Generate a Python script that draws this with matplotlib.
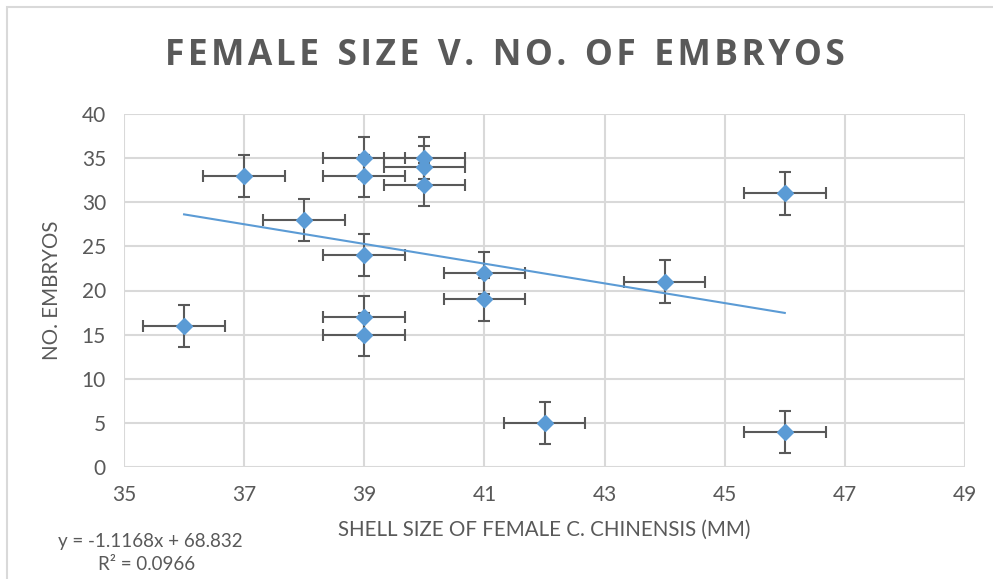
import numpy as np
import matplotlib.pyplot as plt
from matplotlib.patches import Rectangle

# shell size (mm) and number of embryos per female
shell_size = [36, 37, 38, 39, 39, 39, 39, 39, 40, 40, 40, 41, 41, 42, 44, 46, 46]
embryos = [16, 33, 28, 35, 33, 24, 17, 15, 35, 34, 32, 22, 19, 5, 21, 31, 4]
x_err = 0.68
y_err = 2.4
x_ticks = [35, 37, 39, 41, 43, 45, 47, 49]
y_ticks = [0, 5, 10, 15, 20, 25, 30, 35, 40]

blue = '#5B9BD5'
grey = '#595959'
grid_c = '#D9D9D9'

fig = plt.figure(figsize=(9.93, 5.79), dpi=100)
fig.patches.append(Rectangle((7 / 993, -0.1), 1.2, 1 - 7 / 579 + 0.1, transform=fig.transFigure,
                             fill=False, edgecolor=grid_c, linewidth=1.5))

ax = fig.add_axes([124 / 993, 1 - 467 / 579, (965 - 124) / 993, (467 - 114) / 579])

ax.errorbar(shell_size, embryos, xerr=x_err, yerr=y_err, fmt='none', ecolor=grey,
            elinewidth=1.5, capsize=4.5, capthick=1.5, zorder=3)

# linear trendline
slope, intercept = np.polyfit(shell_size, embryos, 1)
xs = np.array([min(shell_size), max(shell_size)])
ax.plot(xs, slope * xs + intercept, color=blue, lw=1.5, zorder=4)

ax.plot(shell_size, embryos, 'D', color=blue, ms=8, zorder=5)

ax.set_xlim(35, 49)
ax.set_ylim(0, 40)
ax.set_xticks(x_ticks)
ax.set_yticks(y_ticks)
ax.grid(True, color=grid_c, lw=1.5)
ax.set_axisbelow(True)
for s in ax.spines.values():
    s.set_visible(False)
ax.tick_params(length=0, labelsize=15, labelcolor=grey, pad=13)
for lab in ax.get_xticklabels() + ax.get_yticklabels():
    lab.set_family('Lato')

ax.set_xlabel('SHELL SIZE OF FEMALE C. CHINENSIS (MM)', fontsize=14.8, color=grey,
              family='Lato', labelpad=11)
ax.set_ylabel('NO. EMBRYOS', fontsize=14.8, color=grey, family='Lato', labelpad=14)

title = 'FEMALE SIZE V. NO. OF EMBRYOS'
fig.text(505 / 993, 1 - 56 / 579, '\u200a'.join(title).replace('\u200a \u200a', '  '),
         ha='center', va='center', fontsize=25.5, fontweight='bold', color=grey, family='Open Sans')

fig.text(150 / 993, 1 - 542 / 579, 'y = -1.1168x + 68.832', ha='center', va='center',
         fontsize=13.5, color=grey, family='Lato')
fig.text(147 / 993, 1 - 565 / 579, 'R² = 0.0966', ha='center', va='center',
         fontsize=13.5, color=grey, family='Lato')

fig.savefig('out.png', dpi=100)
